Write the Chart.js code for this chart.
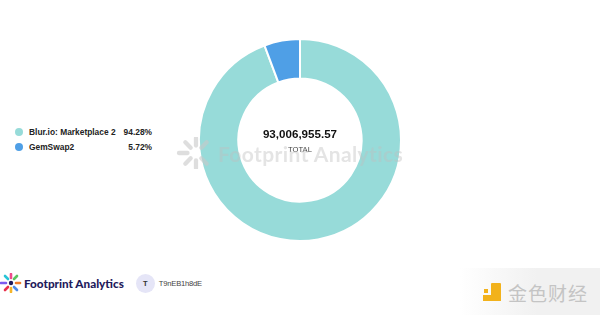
<!DOCTYPE html>
<html>
<head>
<meta charset="utf-8">
<script src="https://cdn.jsdelivr.net/npm/chart.js@4"></script>
<style>
  body { margin: 0; width: 600px; height: 315px; background: #fff; position: relative; overflow: hidden; font-family: "Liberation Sans", Arial, sans-serif; }
  #wrap { position: absolute; left: 198px; top: 38px; width: 204px; height: 204px; }
  .legend { position: absolute; left: 15px; top: 124px; font-size: 8.4px; font-weight: bold; color: #222; }
  .legend .row { display: flex; align-items: center; height: 15.5px; }
  .legend .dot { width: 8px; height: 8px; border-radius: 50%; margin-right: 6px; }
  .legend .name { width: 94px; white-space: nowrap; }
  .legend .pct { width: 29px; text-align: right; }
  .center { position: absolute; left: 230px; width: 140px; text-align: center; color: #111; }
  .wm { position: absolute; left: 176px; top: 137px; font-size: 21px; font-weight: bold; color: rgba(190,190,190,0.42); font-family: "Lato", sans-serif; letter-spacing: 0.4px; white-space: nowrap; }
  .footer { position: absolute; left: 0; top: 273px; display: flex; align-items: center; }
  .brand { font-family: "Lato", sans-serif; font-weight: 900; font-size: 11.7px; color: #1f1b5c; margin-left: 2px; }
  .avatar { width: 19px; height: 19px; border-radius: 50%; background: #e5e5f7; color: #333; font-size: 7.5px; font-weight: bold; display: flex; align-items: center; justify-content: center; margin-left: 12px; }
  .user { font-size: 7.6px; color: #444; margin-left: 4px; letter-spacing: -0.2px; }
  .jinse { position: absolute; left: 460px; top: 268px; width: 140px; height: 47px; background: linear-gradient(90deg, rgba(255,255,255,0), #f1f1f1 55%); }
</style>
</head>
<body>
<div class="legend" id="legend"></div>
<div id="wrap"><canvas id="donut"></canvas></div>
<div class="center" style="top:127px;font-size:11.6px;font-weight:bold;" id="total"></div>
<div class="center" style="top:145px;font-size:7.6px;color:#444;">TOTAL</div>
<div class="wm">
  <svg width="40" height="32" viewBox="0 0 36 30" style="vertical-align:-7px;margin-right:2px">
    <g stroke="rgba(200,200,200,0.6)" stroke-width="4" stroke-linecap="round">
      <line x1="2" y1="15" x2="10" y2="15"/><line x1="8" y1="5" x2="13" y2="10"/>
      <line x1="18" y1="1" x2="18" y2="8"/><line x1="28" y1="5" x2="23" y2="10"/>
      <line x1="8" y1="25" x2="13" y2="20"/><line x1="18" y1="29" x2="18" y2="22"/>
      <line x1="28" y1="25" x2="23" y2="20"/>
    </g>
  </svg>Footprint Analytics</div>
<div class="footer">
  <svg width="22" height="20" viewBox="0 0 22 20">
    <g stroke-width="2.6" stroke-linecap="round">
      <line x1="1" y1="10" x2="6" y2="10" stroke="#7b5cf0"/>
      <line x1="5" y1="3" x2="8" y2="6" stroke="#29c4d6"/>
      <line x1="11" y1="1" x2="11" y2="5" stroke="#f04a8c"/>
      <line x1="17" y1="3" x2="14" y2="6" stroke="#5cc461"/>
      <line x1="5" y1="17" x2="8" y2="14" stroke="#e8304d"/>
      <line x1="11" y1="19" x2="11" y2="15" stroke="#f5b52a"/>
      <line x1="17" y1="17" x2="14" y2="14" stroke="#4f8be8"/>
      <line x1="16" y1="10" x2="20" y2="10" stroke="#f07c2a"/>
    </g>
    <circle cx="11" cy="10" r="2.2" fill="#1f1b5c"/>
  </svg>
  <span class="brand">Footprint Analytics</span>
  <span class="avatar">T</span>
  <span class="user">T9nEB1h8dE</span>
</div>
<div class="jinse">
  <div style="position:absolute;left:23px;top:15px;width:20px;height:20px;">
    <div style="position:absolute;left:8px;top:0;width:10px;height:18px;background:#f2b21c;border-radius:1px;"></div>
    <div style="position:absolute;left:0;top:12px;width:18px;height:6px;background:#f2b21c;"></div>
    <div style="position:absolute;left:1px;top:6px;width:4px;height:4px;background:#f2b21c;"></div>
  </div>
  <div style="position:absolute;left:48px;top:11px;font-size:19px;color:#c4c4c4;font-family:'Noto Sans CJK SC';letter-spacing:1px;">金色财经</div>
</div>
<script>
const labels = ["Blur.io: Marketplace 2", "GemSwap2"];
const values = [87686957.72, 5319997.85];
const shares = ["94.28%", "5.72%"];
const colors = ["#97dbd9", "#4f9fe6"];

const total = values.reduce((a, b) => a + b, 0);
document.getElementById("total").textContent =
  total.toLocaleString("en-US", { minimumFractionDigits: 2, maximumFractionDigits: 2 });

const legend = document.getElementById("legend");
labels.forEach((name, i) => {
  const row = document.createElement("div");
  row.className = "row";
  row.innerHTML = '<span class="dot" style="background:' + colors[i] + '"></span>'
    + '<span class="name">' + name + '</span><span class="pct">' + shares[i] + '</span>';
  legend.appendChild(row);
});

new Chart(document.getElementById("donut"), {
  type: "doughnut",
  data: {
    labels: labels,
    datasets: [{
      data: values,
      backgroundColor: colors,
      borderColor: "#fff",
      borderWidth: 2,
    }],
  },
  options: {
    responsive: true,
    maintainAspectRatio: false,
    animation: false,
    cutout: "61%",
    layout: { padding: 0 },
    plugins: { legend: { display: false }, tooltip: { enabled: false } },
  },
});
</script>
</body>
</html>
